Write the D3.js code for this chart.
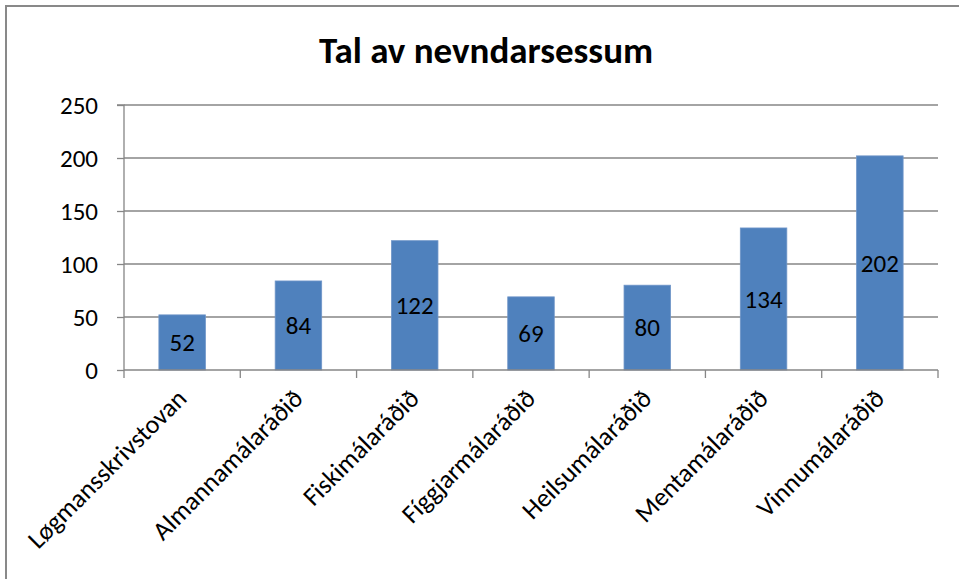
<!DOCTYPE html>
<html>
<head>
<meta charset="utf-8">
<script src="https://cdn.jsdelivr.net/npm/d3@7"></script>
<style>
html,body{margin:0;padding:0;background:#fff;}
svg{display:block;}
text{font-family:Carlito,Calibri,Lato,"Liberation Sans",sans-serif;}
</style>
</head>
<body>
<script>
const categories = ["Løgmansskrivstovan","Almannamálaráðið","Fiskimálaráðið","Fíggjarmálaráðið","Heilsumálaráðið","Mentamálaráðið","Vinnumálaráðið"];
const values = [52,84,122,69,80,134,202];
const yTicks = [0,50,100,150,200,250];
const title = "Tal av nevndarsessum";

const W = 959, H = 579;
const pLeft = 124, pRight = 938, pTop = 105, pBottom = 370;

const svg = d3.select("body").append("svg").attr("width", W).attr("height", H);

svg.append("rect").attr("x", 6).attr("y", 6).attr("width", W + 20).attr("height", H + 20)
  .attr("fill", "#fff").attr("stroke", "#898989").attr("stroke-width", 2);

svg.append("text").attr("x", 486).attr("y", 63).attr("text-anchor", "middle")
  .attr("font-size", 37).attr("font-weight", "bold").attr("fill", "#000").text(title);

const x = d3.scaleBand().domain(categories).range([pLeft, pRight]).paddingInner(0.6).paddingOuter(0.3);
const y = d3.scaleLinear().domain([0, 250]).range([pBottom, pTop]);

// gridlines
svg.append("g").selectAll("line").data(yTicks.filter(d => d > 0)).join("line")
  .attr("x1", pLeft).attr("x2", pRight).attr("y1", d => y(d)).attr("y2", d => y(d))
  .attr("stroke", "#868686").attr("stroke-width", 1.3);

// y axis
const ya = svg.append("g").attr("transform", `translate(${pLeft},0)`)
  .call(d3.axisLeft(y).tickValues(yTicks).tickSize(7).tickPadding(19).tickFormat(d3.format("d")));
ya.select(".domain").attr("stroke", "#868686").attr("stroke-width", 1.3).attr("d", `M-7,${pTop}H0V${pBottom}`);
ya.selectAll(".tick line").attr("stroke", "#868686").attr("stroke-width", 1.3);
ya.selectAll(".tick text").attr("font-size", 25).attr("fill", "#000").attr("font-family", null);

// bars
svg.append("g").selectAll("rect").data(values).join("rect")
  .attr("x", (d, i) => x(categories[i])).attr("width", x.bandwidth())
  .attr("y", d => y(d)).attr("height", d => y(0) - y(d))
  .attr("fill", "#4F81BD").attr("stroke", "#6f95c8").attr("stroke-width", 0.8);

// x axis line + ticks at band boundaries
const step = x.step();
const bounds = d3.range(categories.length + 1).map(i => pLeft + i * step);
svg.append("line").attr("x1", pLeft).attr("x2", pRight).attr("y1", pBottom).attr("y2", pBottom)
  .attr("stroke", "#868686").attr("stroke-width", 1.3);
svg.append("g").selectAll("line").data(bounds).join("line")
  .attr("x1", d => d).attr("x2", d => d).attr("y1", pBottom).attr("y2", pBottom + 8)
  .attr("stroke", "#868686").attr("stroke-width", 1.3);

// data labels
svg.append("g").selectAll("text").data(values).join("text")
  .attr("x", (d, i) => x(categories[i]) + x.bandwidth() / 2)
  .attr("y", d => (y(d) + y(0)) / 2)
  .attr("dy", "0.35em").attr("text-anchor", "middle")
  .attr("font-size", 25).attr("fill", "#000").text(d => d);

// category labels
svg.append("g").selectAll("text").data(categories).join("text")
  .attr("transform", d => `translate(${x(d) + x.bandwidth() / 2 + 6},${pBottom + 30}) rotate(-45)`)
  .attr("text-anchor", "end").attr("font-size", 26).attr("fill", "#000").text(d => d);
</script>
</body>
</html>
